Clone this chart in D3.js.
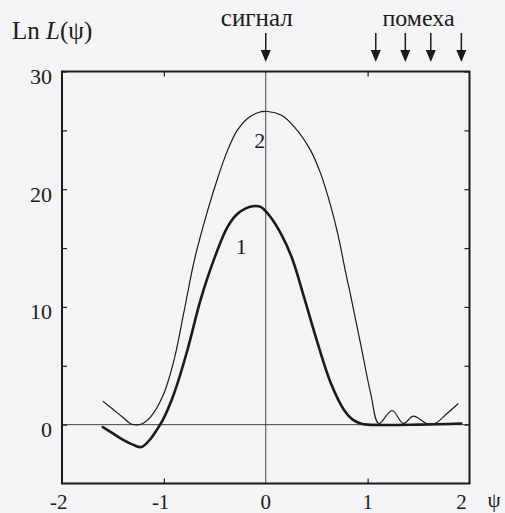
<!DOCTYPE html>
<html>
<head>
<meta charset="utf-8">
<script src="https://cdn.jsdelivr.net/npm/d3@7/dist/d3.min.js"></script>
<style>
  html, body { margin: 0; padding: 0; background: #f4f4f7; }
  svg { display: block; }
</style>
</head>
<body>
<svg id="chart" width="505" height="513"></svg>
<script>
// ---- data ----
const xTickLabels = [-2, -1, 0, 1, 2];
const yTickLabels = [0, 10, 20, 30];
const yTickMarks = [0, 5, 10, 15, 20, 25, 30];
const xTickMarks = [-1, 1];

// curve 2 (thin)
const psi2 = [-1.6, -1.5, -1.4, -1.32, -1.22, -1.13, -1.0, -0.9, -0.8, -0.7, -0.57, -0.47, -0.375, -0.28, -0.18, -0.08, 0.02, 0.15, 0.28, 0.44, 0.54, 0.64, 0.72, 0.78, 0.83, 0.93, 1.03, 1.11, 1.24, 1.35, 1.45, 1.58, 1.66, 1.78, 1.89];
const lnL2 = [2.0, 1.3, 0.6, 0.05, 0.05, 0.66, 2.65, 5.5, 9.7, 14.0, 18.2, 21.0, 23.3, 25.0, 26.0, 26.5, 26.6, 26.3, 25.3, 23.3, 21.3, 18.5, 15.7, 13.1, 11.1, 6.9, 2.65, 0.1, 1.2, 0.1, 0.72, 0.1, 0.1, 0.95, 1.8];

// curve 1 (thick)
const psi1 = [-1.6, -1.5, -1.4, -1.3, -1.22, -1.13, -1.07, -1.01, -0.9, -0.77, -0.64, -0.51, -0.375, -0.28, -0.2, -0.13, -0.05, 0.05, 0.15, 0.26, 0.375, 0.51, 0.64, 0.77, 0.85, 0.93, 1.0, 1.5, 1.92];
const lnL1 = [-0.2, -0.75, -1.3, -1.72, -1.9, -1.2, -0.45, 0.4, 2.65, 6.3, 10.6, 14.0, 16.8, 17.9, 18.35, 18.55, 18.5, 17.6, 16.2, 14.1, 10.85, 6.9, 3.5, 1.23, 0.45, 0.1, 0.0, 0.0, 0.1];

const signalPos = [0];
const noisePos = [1.08, 1.37, 1.62, 1.92];

const curveLabels = [
  { text: "2", psi: -0.06, v: 24.1 },
  { text: "1", psi: -0.24, v: 15.1 }
];

// ---- chart ----
const FONT = '"Liberation Serif", "DejaVu Serif", "Noto Serif", "Times New Roman", serif';
const svg = d3.select("#chart");
const x = d3.scaleLinear().domain([-2, 2]).range([62, 469.5]);
const y = d3.scaleLinear().domain([-5, 30]).range([483.5, 71.5]);
const ink = "#1a1a1a";

function txt(sel) {
  return sel.attr("font-family", FONT).attr("fill", ink);
}

// reference lines at 0
svg.append("line")
  .attr("x1", x(0)).attr("x2", x(0)).attr("y1", y(30)).attr("y2", y(-5))
  .attr("stroke", "#444").attr("stroke-width", 1);
svg.append("line")
  .attr("x1", x(-2)).attr("x2", x(2)).attr("y1", y(0)).attr("y2", y(0))
  .attr("stroke", "#444").attr("stroke-width", 1);

// inward tick marks
function styleAxis(g) {
  g.select(".domain").remove();
  g.selectAll(".tick line").attr("stroke", ink).attr("stroke-width", 1.2);
  g.selectAll(".tick text").remove();
}
svg.append("g").attr("transform", `translate(${x(-2)},0)`)
  .call(d3.axisLeft(y).tickValues(yTickMarks).tickSize(-5).tickFormat("")).call(styleAxis);
svg.append("g").attr("transform", `translate(${x(2)},0)`)
  .call(d3.axisRight(y).tickValues(yTickMarks).tickSize(-5).tickFormat("")).call(styleAxis);
svg.append("g").attr("transform", `translate(0,${y(30)})`)
  .call(d3.axisTop(x).tickValues(xTickMarks).tickSize(-5).tickFormat("")).call(styleAxis);
svg.append("g").attr("transform", `translate(0,${y(-5)})`)
  .call(d3.axisBottom(x).tickValues(xTickMarks).tickSize(-5).tickFormat("")).call(styleAxis);

// frame
svg.append("rect")
  .attr("x", x(-2)).attr("y", y(30))
  .attr("width", x(2) - x(-2)).attr("height", y(-5) - y(30))
  .attr("fill", "none").attr("stroke", ink).attr("stroke-width", 2);

// curves
const line = d3.line().x(d => x(d[0])).y(d => y(d[1])).curve(d3.curveCatmullRom.alpha(0.5));
svg.append("path")
  .datum(psi2.map((p, i) => [p, lnL2[i]]))
  .attr("d", line).attr("fill", "none").attr("stroke", ink)
  .attr("stroke-width", 1.2).attr("stroke-linejoin", "round");
svg.append("path")
  .datum(psi1.map((p, i) => [p, lnL1[i]]))
  .attr("d", line).attr("fill", "none").attr("stroke", ink)
  .attr("stroke-width", 2.6).attr("stroke-linejoin", "round").attr("stroke-linecap", "round");

// curve labels
svg.selectAll(".clab").data(curveLabels).enter().append("text")
  .call(txt)
  .attr("x", d => x(d.psi)).attr("y", d => y(d.v))
  .attr("text-anchor", "middle").attr("dominant-baseline", "central")
  .attr("font-size", 22).text(d => d.text);

// y tick labels
svg.selectAll(".ylab").data(yTickLabels).enter().append("text")
  .call(txt)
  .attr("x", x(-2) - 10).attr("y", d => y(d) + 5)
  .attr("text-anchor", "end").attr("dominant-baseline", "central")
  .attr("font-size", 22).text(d => d);

// x tick labels (digit centred on tick, minus sign hangs left)
const xl = svg.selectAll(".xlab").data(xTickLabels).enter().append("text")
  .call(txt)
  .attr("y", 502).attr("dominant-baseline", "central")
  .attr("font-size", 21)
  .text(d => d < 0 ? "-" + Math.abs(d) : String(d));
xl.each(function(d) {
  const t = d3.select(this);
  let cx = x(d);
  if (d === 2) cx -= 8;
  if (d < 0) {
    t.attr("text-anchor", "end").attr("x", cx + 5.5);
  } else {
    t.attr("text-anchor", "middle").attr("x", cx);
  }
});
svg.append("text").call(txt).attr("x", 494).attr("y", 500)
  .attr("text-anchor", "middle").attr("dominant-baseline", "central")
  .attr("font-size", 21).text("ψ");

// y axis title: Ln L(ψ)
const yt = svg.append("text").call(txt).attr("x", 12).attr("y", 39).attr("font-size", 25);
yt.append("tspan").text("Ln ");
yt.append("tspan").attr("font-style", "italic").text("L");
yt.append("tspan").text("(ψ)");

// arrows
function arrow(px) {
  const g = svg.append("g");
  g.append("line").attr("x1", px).attr("x2", px).attr("y1", 33).attr("y2", 52)
    .attr("stroke", ink).attr("stroke-width", 1.5);
  g.append("path")
    .attr("d", `M${px - 5},${50} L${px + 5},${50} L${px},${62} Z`)
    .attr("fill", ink);
}
signalPos.forEach(p => arrow(x(p)));
noisePos.forEach(p => arrow(x(p)));

svg.append("text").call(txt).attr("x", x(d3.mean(signalPos)) - 9).attr("y", 26)
  .attr("text-anchor", "middle").attr("font-size", 25).text("сигнал");
svg.append("text").call(txt).attr("x", (x(noisePos[0]) + x(noisePos[noisePos.length - 1])) / 2).attr("y", 26)
  .attr("text-anchor", "middle").attr("font-size", 24).text("помеха");
</script>
</body>
</html>
